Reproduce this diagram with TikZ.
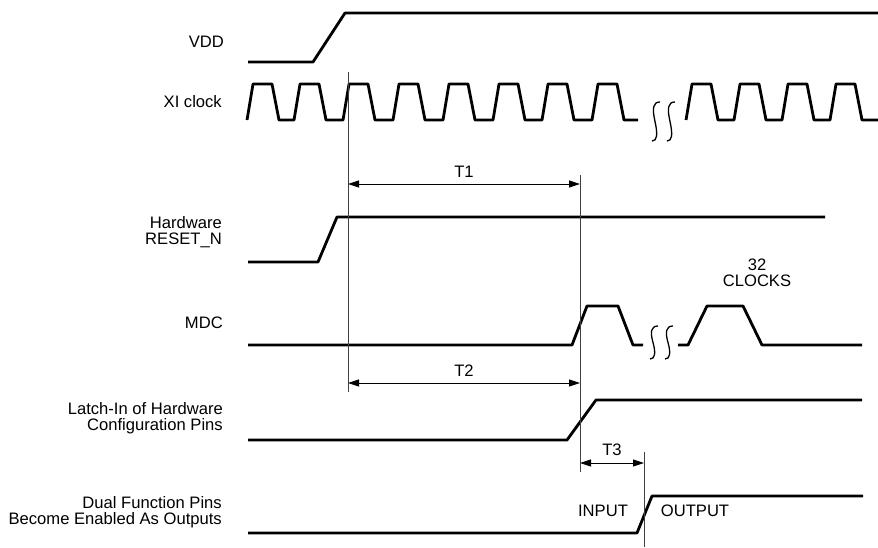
\documentclass[tikz,border=0pt]{standalone}
\usepackage{fontspec}
\setmainfont{Liberation Sans}
\usetikzlibrary{arrows.meta}

\begin{document}
\begin{tikzpicture}[x=1pt,y=-1pt,
  sig/.style={line width=2.8pt,line join=round},
  guide/.style={line width=0.8pt,draw=black!75},
  dim/.style={{Triangle[length=11pt,width=7pt]}-{Triangle[length=11pt,width=7pt]},line width=0.8pt},
  brk/.style={line width=1.3pt},
  lbl/.style={anchor=east,inner sep=0pt,align=right,font=\fontsize{16.6}{16.5}\selectfont},
  txt/.style={inner sep=0pt,align=center,font=\fontsize{16.6}{16.5}\selectfont}
]
\useasboundingbox (0,0) rectangle (878,548);

\node[lbl] (lvdd) at (224,42) {VDD};
\node[lbl] (lclk) at (222,102) {XI clock};
\node[lbl] (lrst) at (222,232) {Hardware\\RESET\_N};
\node[lbl] (lmdc) at (223,323) {MDC};
\node[lbl] (llat) at (223,418) {Latch-In of Hardware\\Configuration Pins};
\node[lbl] (ldual) at (222,512) {Dual Function Pins\\Become Enabled As Outputs};

\draw[sig] (248,62) -- (313,62) -- (345,13) -- (878,13);
\draw[sig] (247,120) \foreach \r in {247,294,343,393,443,493,542,592} {
  -- (\r,120) -- ({\r+6},84) -- ({\r+25},84) -- ({\r+32},120) } -- (638,120);
\draw[sig] (686,120) \foreach \r in {686,734,782,830} {
  -- (\r,120) -- ({\r+6},84) -- ({\r+25},84) -- ({\r+32},120) } -- (878,120);
\draw[sig] (248,262) -- (318,262) -- (337,217) -- (825,217);
\draw[sig] (248,345) -- (572,345) -- (587,306) -- (618,306) -- (633,345) -- (643,345);
\draw[sig] (678,345) -- (688,345) -- (707,306) -- (743,306) -- (762,345) -- (862,345);
\draw[sig] (248,440) -- (567,440) -- (596,400) -- (862,400);
\draw[sig] (248,533) -- (637,533) -- (652,496) -- (863,496);

\foreach \x/\ya/\yb in {652/102/141,667/102/141,650/326/359,665/326/359}
  \draw[brk] ({\x+8},\ya) .. controls ({\x+1},{\ya}) and ({\x},{\ya+6}) .. ({\x+3},{(\ya+\yb)/2})
    .. controls ({\x+6},{\yb-6}) and ({\x+5},{\yb}) .. (\x,\yb);

\coordinate (ga) at (348,72);  \coordinate (gb) at (348,392);
\coordinate (gc) at (580,175); \coordinate (gd) at (580,472);
\coordinate (ge) at (644,452); \coordinate (gf) at (644,547);
\draw[guide] (ga) -- (gb);
\draw[guide] (gc) -- (gd);
\draw[guide] (ge) -- (gf);

\coordinate (t1a) at (348,184); \coordinate (t1b) at (580,184);
\coordinate (t2a) at (348,383); \coordinate (t2b) at (580,383);
\coordinate (t3a) at (580,463); \coordinate (t3b) at (644,463);
\draw[dim] (t1a) -- node[above=6pt,txt] (t1) {T1} (t1b);
\draw[dim] (t2a) -- node[above=6pt,txt] (t2) {T2} (t2b);
\draw[dim] (t3a) -- node[above=7pt,txt] (t3) {T3} (t3b);

\node[txt] (nclk) at (757,273) {32\\CLOCKS};
\node[txt] (nin) at (603,511) {INPUT};
\node[txt] (nout) at (695,511) {OUTPUT};
\end{tikzpicture}
\end{document}
